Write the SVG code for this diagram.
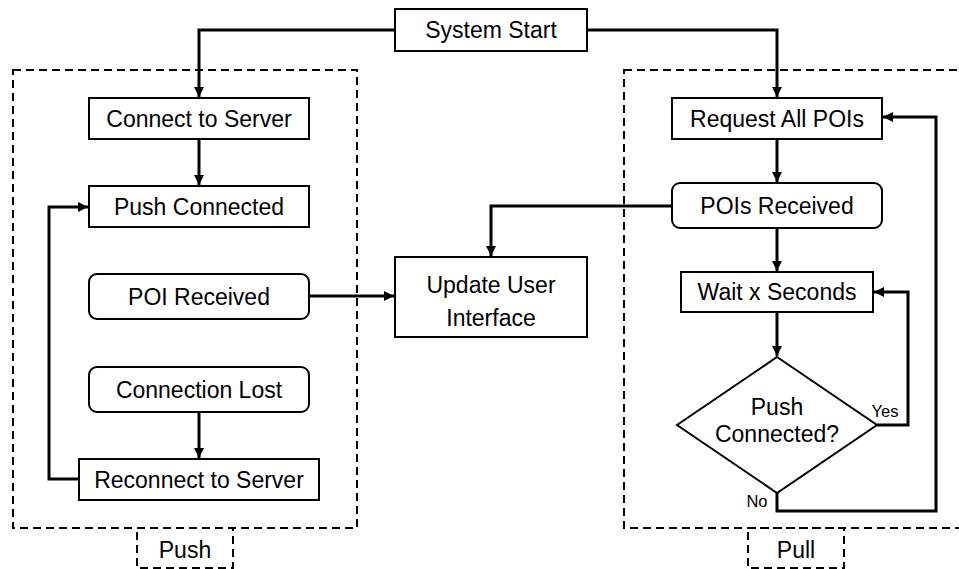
<svg xmlns="http://www.w3.org/2000/svg" width="959" height="569" viewBox="0 0 959 569">
<style>
.box{fill:#fff;stroke:#000;stroke-width:2}
.dash{fill:none;stroke:#000;stroke-width:2;stroke-dasharray:8,5}
.t{font-family:"Liberation Sans",Arial,sans-serif;font-size:23px;fill:#000;text-anchor:middle}
.s{font-family:"Liberation Sans",Arial,sans-serif;font-size:16.5px;fill:#000;text-anchor:middle}
.c{fill:none;stroke:#000;stroke-width:3}
</style>
<defs>
<marker id="ah" markerUnits="userSpaceOnUse" markerWidth="11" markerHeight="11" refX="10" refY="5" orient="auto">
<path d="M0,0 L10,5 L0,10 z" fill="#000"/>
</marker>
</defs>
<rect width="959" height="569" fill="#fff"/>
<g id="groups">
<rect class="dash" x="13" y="70" width="344" height="458"/>
<rect class="dash" x="624" y="70" width="350" height="458"/>
<g id="push-label"><rect class="dash" x="137" y="528" width="96" height="40"/><text class="t" x="185" y="558">Push</text></g>
<g id="pull-label"><rect class="dash" x="748" y="528" width="96" height="40"/><text class="t" x="796" y="558">Pull</text></g>
</g>
<g id="connectors">
<path class="c" d="M395,30 H199 V97" marker-end="url(#ah)"/>
<path class="c" d="M587,30 H777 V97" marker-end="url(#ah)"/>
<path class="c" d="M199,139 V185" marker-end="url(#ah)"/>
<path class="c" d="M199,412 V458" marker-end="url(#ah)"/>
<path class="c" d="M79,479 H49 V207 H88" marker-end="url(#ah)"/>
<path class="c" d="M309,296 H394" marker-end="url(#ah)"/>
<path class="c" d="M672,206 H491 V256" marker-end="url(#ah)"/>
<path class="c" d="M777,139 V182" marker-end="url(#ah)"/>
<path class="c" d="M777,228 V271" marker-end="url(#ah)"/>
<path class="c" d="M777,312 V356" marker-end="url(#ah)"/>
<path class="c" d="M877,425 H908 V292 H874" marker-end="url(#ah)"/>
<path class="c" d="M777,493 V511 H936 V117 H883" marker-end="url(#ah)"/>
<text class="s" x="885" y="417">Yes</text>
<text class="s" x="757" y="507">No</text>
</g>
<g id="system-start"><rect class="box" x="395" y="9" width="192" height="42"/><text class="t" x="491" y="38">System Start</text></g>
<g id="connect-to-server"><rect class="box" x="89" y="98" width="220" height="41"/><text class="t" x="199" y="127">Connect to Server</text></g>
<g id="push-connected"><rect class="box" x="89" y="186" width="220" height="41"/><text class="t" x="199" y="215">Push Connected</text></g>
<g id="poi-received"><rect class="box" x="89" y="274" width="220" height="45" rx="8"/><text class="t" x="199" y="305">POI Received</text></g>
<g id="connection-lost"><rect class="box" x="89" y="367" width="220" height="45" rx="8"/><text class="t" x="199" y="398">Connection Lost</text></g>
<g id="reconnect-to-server"><rect class="box" x="79" y="459" width="240" height="41"/><text class="t" x="199" y="488">Reconnect to Server</text></g>
<g id="update-ui"><rect class="box" x="395" y="257" width="192" height="80"/><text class="t" x="491" y="293">Update User</text><text class="t" x="491" y="326">Interface</text></g>
<g id="request-all-pois"><rect class="box" x="672" y="98" width="210" height="41"/><text class="t" x="777" y="127">Request All POIs</text></g>
<g id="pois-received"><rect class="box" x="672" y="183" width="210" height="45" rx="8"/><text class="t" x="777" y="214">POIs Received</text></g>
<g id="wait-x-seconds"><rect class="box" x="681" y="272" width="192" height="40"/><text class="t" x="777" y="300">Wait x Seconds</text></g>
<g id="push-connected-q"><polygon class="box" points="777,357 877,425 777,493 677,425"/><text class="t" x="777" y="415">Push</text><text class="t" x="777" y="442">Connected?</text></g>
</svg>
